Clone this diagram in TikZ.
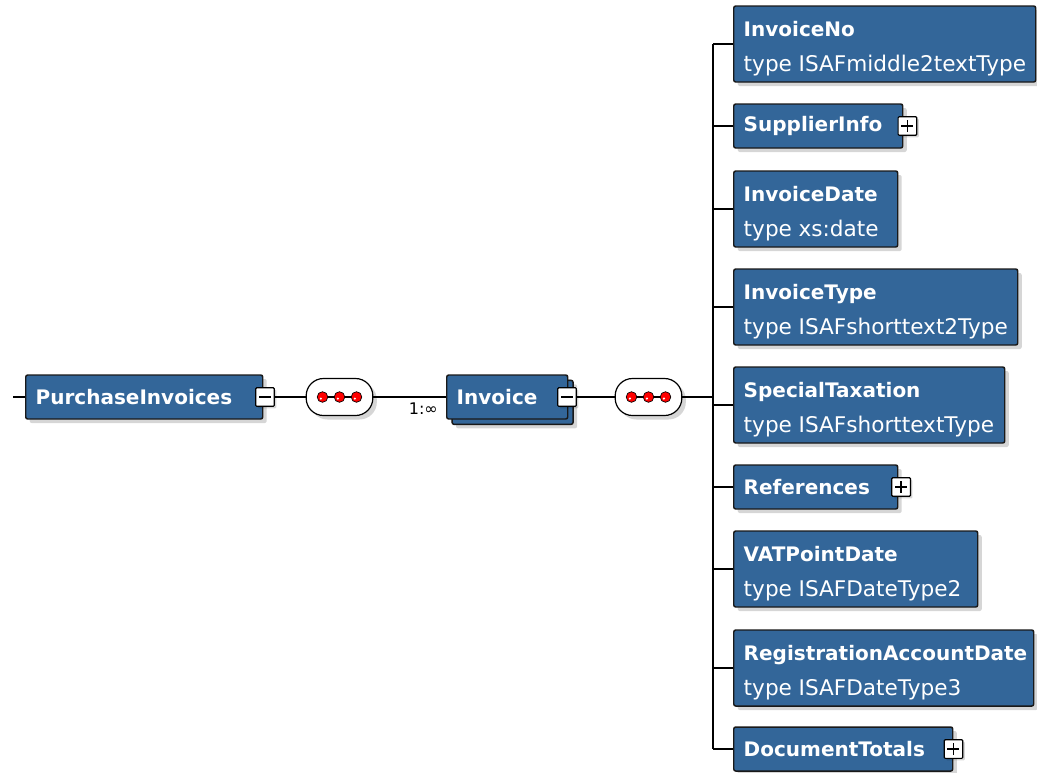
\documentclass[tikz,border=0pt]{standalone}
\usepackage{fontspec}
\usepackage{tikz}
\usetikzlibrary{shadows}
\newfontfamily\xsdfont{DejaVu Sans}
\definecolor{xsdblue}{RGB}{51,102,153}
\newcommand{\xname}[1]{\rule{0pt}{19pt}\mbox{#1}}
\newcommand{\xtype}[1]{{\mdseries\fontsize{16.2}{26.25}\selectfont\mbox{#1}}}
\tikzset{
  elem/.style={draw=black!90, line width=1.1pt, fill=xsdblue, rounded corners=1.5pt, text=white,
    anchor=west, align=left, inner xsep=7.5pt, inner ysep=0pt,
    font=\xsdfont\bfseries\fontsize{15}{26.25}\selectfont,
    drop shadow={shadow xshift=3pt, shadow yshift=-3pt, fill=black, opacity=0.16}},
  oneline/.style={minimum height=33pt},
  twoline/.style={minimum height=57pt},
  stacked/.style={drop shadow={shadow xshift=7pt, shadow yshift=-7pt, fill=black, opacity=0.16},
    copy shadow={shadow xshift=4pt, shadow yshift=-4pt}},
  togglebox/.style={draw=black, fill=white, line width=0.9pt, minimum size=14pt, inner sep=0pt,
    rounded corners=0.8pt, drop shadow={shadow xshift=1.5pt, shadow yshift=-1.5pt, fill=black, opacity=0.16}},
  minusbox/.style={togglebox, path picture={
    \draw[line width=1.1pt, shorten <=2.5pt, shorten >=2.5pt] (path picture bounding box.west) -- (path picture bounding box.east);}},
  plusbox/.style={togglebox, path picture={
    \draw[line width=1.1pt, shorten <=2.5pt, shorten >=2.5pt] (path picture bounding box.west) -- (path picture bounding box.east);
    \draw[line width=1.1pt, shorten <=2.5pt, shorten >=2.5pt] (path picture bounding box.south) -- (path picture bounding box.north);}},
  seqbox/.style={draw=black, fill=white, line width=0.9pt, rounded corners=13pt, minimum width=50pt, minimum height=27.75pt,
    drop shadow={shadow xshift=3pt, shadow yshift=-3pt, fill=black, opacity=0.16},
    path picture={
      \draw[line width=0.9pt] (path picture bounding box.center) +(-17,0) -- +(17,0);
      \foreach \dx in {-17,0,17} {
        \draw[fill=red, line width=0.5pt] (path picture bounding box.center) ++(\dx,0) circle[radius=5.3];
        \fill[white] (path picture bounding box.center) ++(\dx,0) ++(-1.6,-1.6) circle[radius=1.2];
      }}},
  card/.style={inner sep=0pt, font=\xsdfont\fontsize{12}{14}\selectfont},
  link/.style={line width=0.8pt, draw=black}
}

\begin{document}
\begin{tikzpicture}[x=0.75pt,y=0.75pt,yscale=-1,xscale=1]
\path[use as bounding box] (0,0) rectangle (1037,772);

%Shape: Rectangle [root element]
\coordinate (root) at (13,397);
\node[elem, oneline, text width=162.75pt] (pinv) at (25,397) {PurchaseInvoices};
\node[minusbox] (pinvtog) at (265,397) {};
%Shape: Sequence
\node[seqbox] (seqa) at (339.5,397) {};
%Shape: Rectangle [repeated element]
\node[elem, oneline, stacked, text width=75.75pt] (inv) at (446,397) {Invoice};
\node[minusbox] (invtog) at (567,397) {};
%Shape: Sequence
\node[seqbox] (seqb) at (648.5,397) {};
\coordinate (trunk) at (713,397);

%Shape: Rectangle [children]
\node[elem, twoline, text width=211.5pt] (invno) at (733,44) {\xname{InvoiceNo}\\\xtype{type ISAFmiddle2textType}};
\node[elem, oneline, text width=111.75pt] (supinfo) at (733,126) {SupplierInfo};
\node[plusbox] (suptog) at ([xshift=3pt]supinfo.east) {};
\node[elem, twoline, text width=108pt] (invdate) at (733,209) {\xname{InvoiceDate}\\\xtype{type xs:date}};
\node[elem, twoline, text width=198pt] (invtype) at (733,307) {\xname{InvoiceType}\\\xtype{type ISAFshorttext2Type}};
\node[elem, twoline, text width=188.25pt] (spectax) at (733,405) {\xname{SpecialTaxation}\\\xtype{type ISAFshorttextType}};
\node[elem, oneline, text width=108pt] (refs) at (733,487) {References};
\node[plusbox] (refstog) at ([xshift=2pt]refs.east) {};
\node[elem, twoline, text width=168pt] (vatdate) at (733,569) {\xname{VATPointDate}\\\xtype{type ISAFDateType2}};
\node[elem, twoline, text width=210pt] (regdate) at (733,668) {\xname{RegistrationAccountDate}\\\xtype{type ISAFDateType3}};
\node[elem, oneline, text width=149.25pt] (doctot) at (733,749) {DocumentTotals};
\node[plusbox] (doctog) at ([xshift=0pt]doctot.east) {};

% Text Node
\node[card, anchor=north east] (mult) at (438,403) {1:∞};

%Straight Lines
\draw[link] (root) -- (pinv);
\draw[link] (pinvtog) -- (seqa);
\draw[link] (seqa) -- (inv);
\draw[link] (invtog) -- (seqb);
\draw[link] (seqb) -- (trunk);
\draw[link] (trunk |- invno.west) -- (trunk |- doctot.west);
\foreach \child in {invno,supinfo,invdate,invtype,spectax,refs,vatdate,regdate,doctot}
  \draw[link] (trunk |- \child.west) -- (\child.west);
\end{tikzpicture}
\end{document}
